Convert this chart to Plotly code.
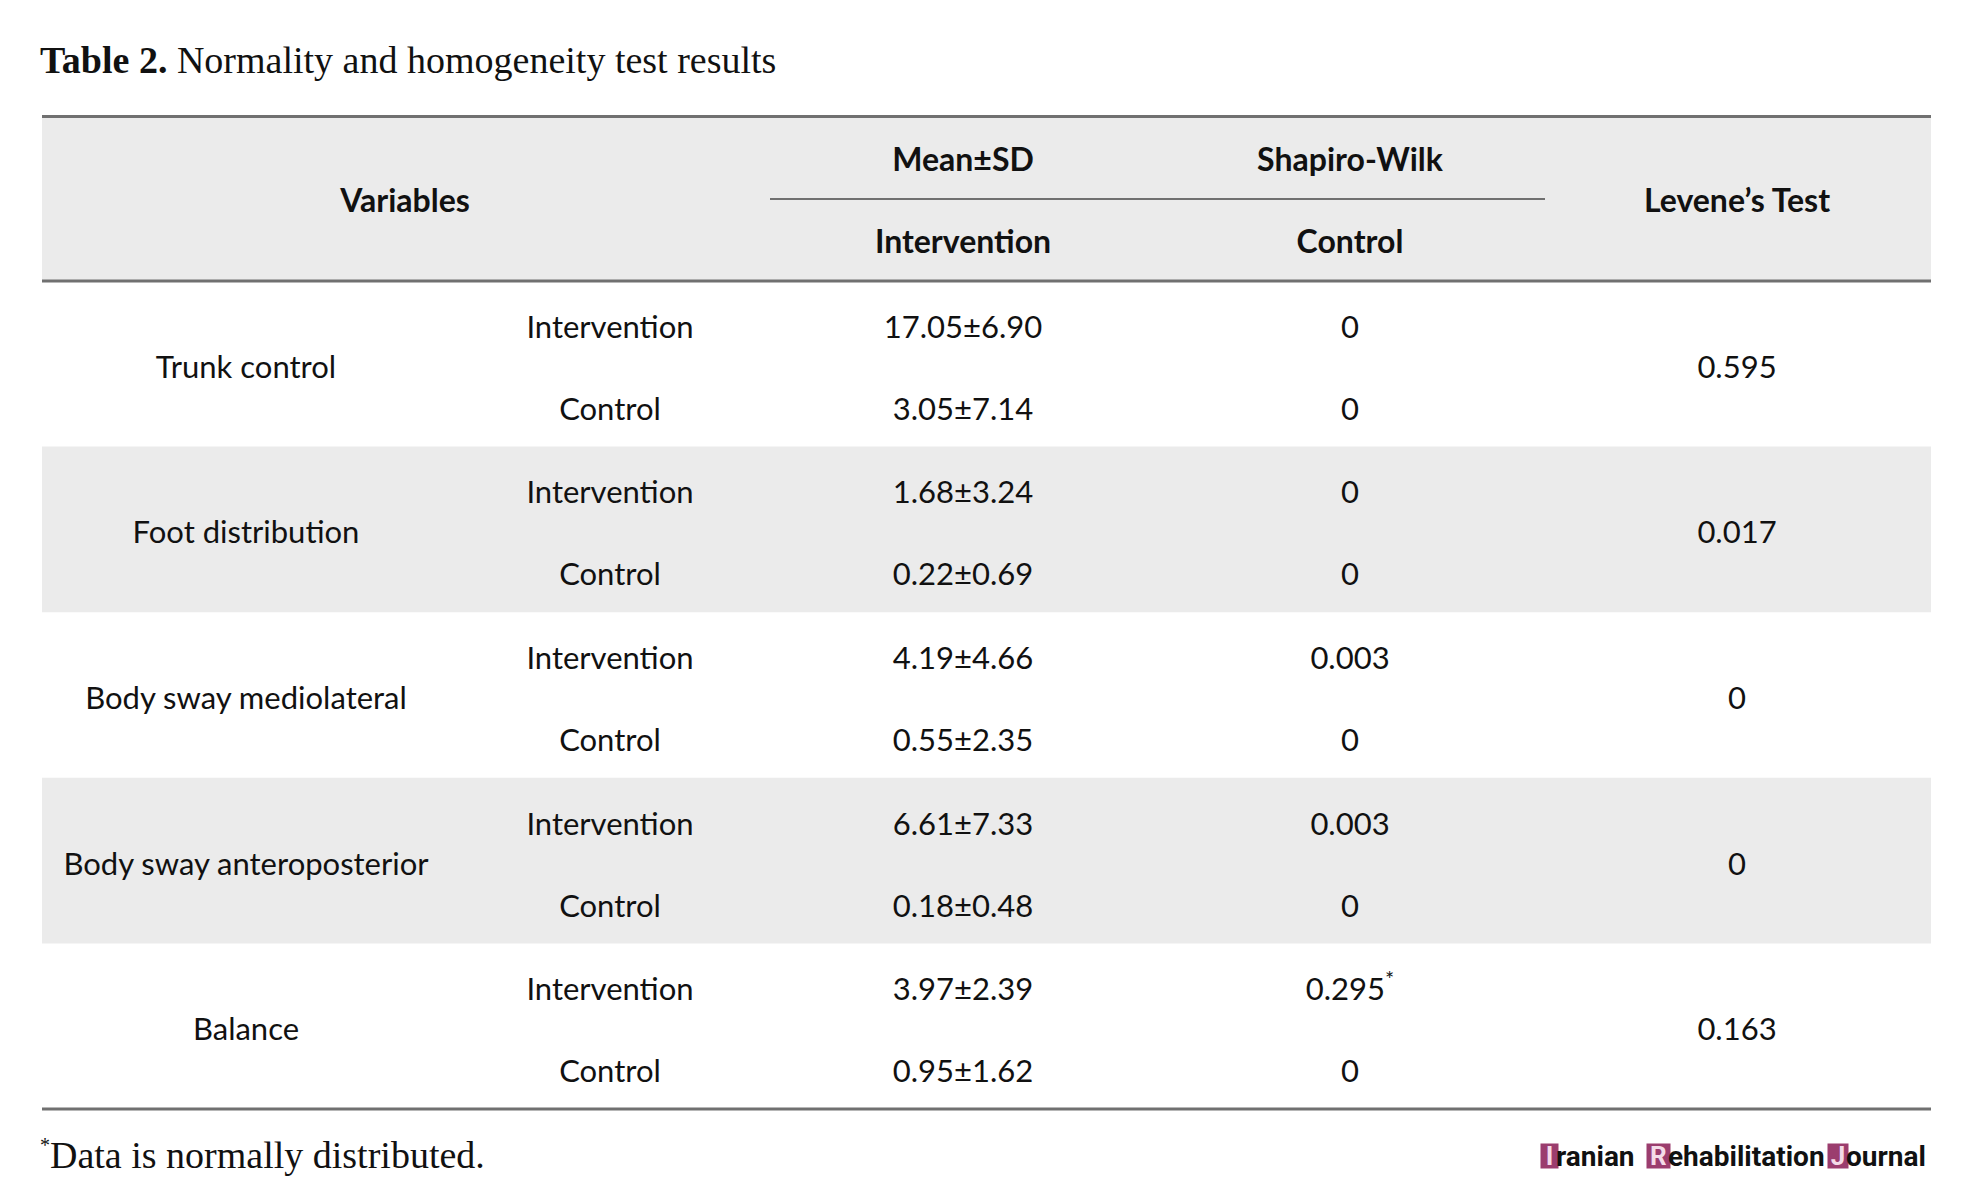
import plotly.graph_objects as go

# ---- data -------------------------------------------------------------
variables = [
    "Trunk control",
    "Foot distribution",
    "Body sway mediolateral",
    "Body sway anteroposterior",
    "Balance",
]
groups = ["Intervention", "Control"]

mean_int = [17.05, 1.68, 4.19, 6.61, 3.97]
sd_int = [6.90, 3.24, 4.66, 7.33, 2.39]
mean_ctl = [3.05, 0.22, 0.55, 0.18, 0.95]
sd_ctl = [7.14, 0.69, 2.35, 0.48, 1.62]

shapiro_int = ["0", "0", "0.003", "0.003", "0.295<sup>*</sup>"]
shapiro_ctl = ["0", "0", "0", "0", "0"]
levene = ["0.595", "0.017", "0", "0", "0.163"]

header_top = ["Mean±SD", "Shapiro-Wilk"]
header_sub = ["Intervention", "Control"]

# ---- layout constants (page pixels) -----------------------------------
W, H = 1985, 1199
PAD = 8  # default body margin of the html page
LEFT, RIGHT = 42, 1931
TOP, HEAD_BOT = 116.5, 281
ROW_H = (1109 - HEAD_BOT) / len(variables)
col_var, col_grp, col_mean, col_sw, col_lev = 246, 610, 963, 1350, 1737
col_head_var = 405
DY = 3  # text nudge
BAND = "#ebebeb"
LINE = "#707070"
BODY_FONT = dict(family="Lato, Carlito, sans-serif", size=31, color="#111111")
HEAD_FONT = dict(family="Lato, Carlito, sans-serif", size=32, color="#111111")
SERIF = "Palatino Linotype, Book Antiqua, Liberation Serif, serif"

fig = go.Figure()

# gray bands (header + every other group)
fig.add_shape(type="rect", x0=LEFT, x1=RIGHT, y0=TOP, y1=HEAD_BOT,
              fillcolor=BAND, line_width=0, layer="below")
for i in range(len(variables)):
    if i % 2 == 1:
        fig.add_shape(type="rect", x0=LEFT, x1=RIGHT,
                      y0=HEAD_BOT + i * ROW_H, y1=HEAD_BOT + (i + 1) * ROW_H,
                      fillcolor=BAND, line_width=0, layer="below")

# rules
for y in [TOP, HEAD_BOT, HEAD_BOT + len(variables) * ROW_H]:
    fig.add_shape(type="line", x0=LEFT, x1=RIGHT, y0=y, y1=y,
                  line=dict(color=LINE, width=3))
fig.add_shape(type="line", x0=770, x1=1545, y0=199, y1=199,
              line=dict(color=LINE, width=2))

# header
fig.add_trace(go.Scatter(
    x=[col_head_var, col_lev], y=[201 + DY, 201 + DY], mode="text",
    text=["<b>Variables</b>", "<b>Levene’s Test</b>"],
    textfont=HEAD_FONT, hoverinfo="skip"))
fig.add_trace(go.Scatter(
    x=[col_mean, col_sw], y=[160 + DY, 160 + DY], mode="text",
    text=["<b>%s</b>" % t for t in header_top],
    textfont=HEAD_FONT, hoverinfo="skip"))
fig.add_trace(go.Scatter(
    x=[col_mean, col_sw], y=[242 + DY, 242 + DY], mode="text",
    text=["<b>%s</b>" % t for t in header_sub],
    textfont=HEAD_FONT, hoverinfo="skip"))

# body
y_mid = [HEAD_BOT + i * ROW_H + 86 + DY for i in range(len(variables))]
y_int = [HEAD_BOT + i * ROW_H + 46 + DY for i in range(len(variables))]
y_ctl = [HEAD_BOT + i * ROW_H + 128 + DY for i in range(len(variables))]

fig.add_trace(go.Scatter(x=[col_var] * len(variables), y=y_mid, mode="text",
                         text=variables, textfont=BODY_FONT, hoverinfo="skip"))
fig.add_trace(go.Scatter(x=[col_lev] * len(variables), y=y_mid, mode="text",
                         text=levene, textfont=BODY_FONT, hoverinfo="skip"))
fig.add_trace(go.Scatter(x=[col_grp] * len(variables), y=y_int, mode="text",
                         text=[groups[0]] * len(variables), textfont=BODY_FONT,
                         hoverinfo="skip"))
fig.add_trace(go.Scatter(x=[col_grp] * len(variables), y=y_ctl, mode="text",
                         text=[groups[1]] * len(variables), textfont=BODY_FONT,
                         hoverinfo="skip"))
fig.add_trace(go.Scatter(
    x=[col_mean] * len(variables), y=y_int, mode="text",
    text=["%.2f±%.2f" % (m, s) for m, s in zip(mean_int, sd_int)],
    textfont=BODY_FONT, hoverinfo="skip"))
fig.add_trace(go.Scatter(
    x=[col_mean] * len(variables), y=y_ctl, mode="text",
    text=["%.2f±%.2f" % (m, s) for m, s in zip(mean_ctl, sd_ctl)],
    textfont=BODY_FONT, hoverinfo="skip"))
fig.add_trace(go.Scatter(x=[col_sw] * len(variables), y=y_int, mode="text",
                         text=shapiro_int, textfont=BODY_FONT, hoverinfo="skip"))
fig.add_trace(go.Scatter(x=[col_sw] * len(variables), y=y_ctl, mode="text",
                         text=shapiro_ctl, textfont=BODY_FONT, hoverinfo="skip"))

# title + footnote
fig.add_annotation(x=LEFT - 4, y=60, xref="x", yref="y", xanchor="left",
                   yanchor="middle", showarrow=False,
                   text="<b>Table 2.</b> Normality and homogeneity test results",
                   font=dict(family=SERIF, size=38, color="#111111"))
fig.add_annotation(x=LEFT - 4, y=1155, xref="x", yref="y", xanchor="left",
                   yanchor="middle", showarrow=False,
                   text="<sup><span style='font-size:20px'>*</span></sup>"
                        "Data is normally distributed.",
                   font=dict(family=SERIF, size=38, color="#111111"))

# journal logo
LOGO = "#9b3d6e"
logo_font = dict(family="Roboto, sans-serif", size=28, color="#111111")
box_font = dict(family="Roboto, sans-serif", size=26, color="#f4dbe8")
pieces = [
    (1540, 17, "I"), (1557, None, "ranian"),
    (1646, 23, "R"), (1669, None, "ehabilitation"),
    (1827, 20, "J"), (1847, None, "ournal"),
]
for x, bw, txt in pieces:
    boxed = bw is not None
    fig.add_annotation(x=x if boxed else x - 2, y=1156, xref="x", yref="y",
                       xanchor="left", yanchor="middle", showarrow=False,
                       text="<b>%s</b>" % txt,
                       font=box_font if boxed else logo_font,
                       bgcolor=LOGO if boxed else None,
                       width=bw, height=24 if boxed else None,
                       borderpad=0)

fig.update_layout(
    width=W - 2 * PAD, height=H - 2 * PAD,
    margin=dict(l=0, r=0, t=0, b=0),
    paper_bgcolor="white", plot_bgcolor="white",
    showlegend=False,
    xaxis=dict(range=[PAD, W - PAD], visible=False, fixedrange=True),
    yaxis=dict(range=[H - PAD, PAD], visible=False, fixedrange=True),
)

fig.write_html("out.html")
